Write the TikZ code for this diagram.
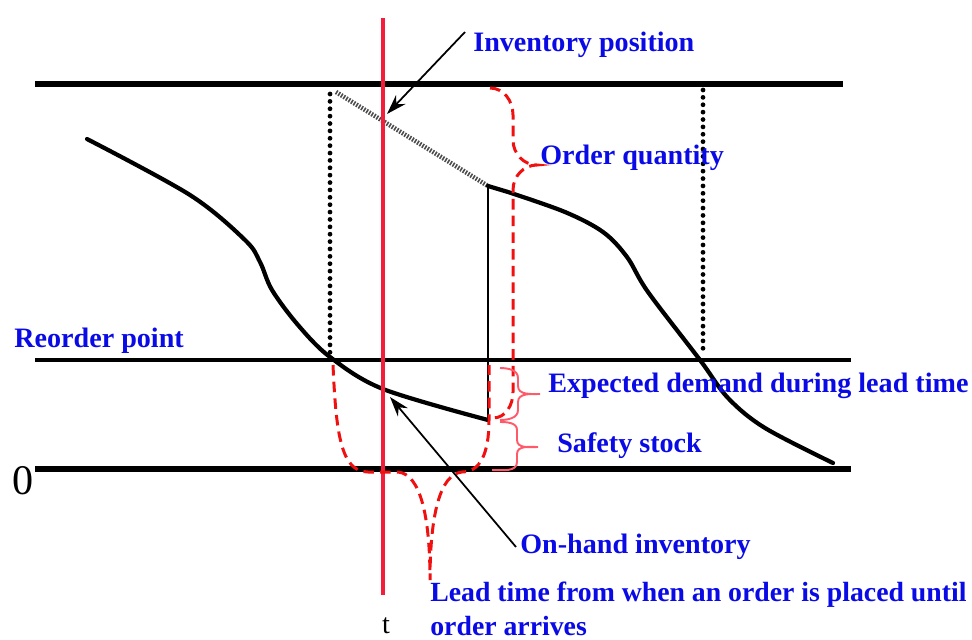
\documentclass[tikz,border=0pt]{standalone}
\usepackage{fontspec}
\setmainfont{Liberation Serif}
\usetikzlibrary{arrows.meta,positioning}
\definecolor{txtblue}{HTML}{0A0AE6}
\definecolor{tred}{HTML}{F41E3C}
\definecolor{dred}{HTML}{F01010}
\definecolor{bpink}{HTML}{FF5A6A}

\begin{document}
\begin{tikzpicture}[x=0.02cm, y=-0.02cm,
  every node/.style={font=\fontsize{16}{18}\selectfont\bfseries, text=txtblue, inner sep=0pt},
  level/.style={line width=3.3pt},
  stock/.style={line width=2.4pt, line join=round, line cap=round},
  lead/.style={dred, dash pattern=on 6pt off 3.5pt, line width=1.7pt},
  brace/.style={bpink, line width=1.1pt},
  pointer/.style={-{Stealth[length=4mm, width=2.6mm]}, line width=1pt},
  drop/.style={line width=2.7pt, line cap=round, dash pattern=on 0pt off 4.2pt}
]
\path[use as bounding box] (0,0) rectangle (972,639);

% Levels
\coordinate (topL) at (35,84);
\coordinate (topR) at (843,84);
\coordinate (ropL) at (35,360);
\coordinate (ropR) at (851,360);
\coordinate (zeroL) at (35,469);
\coordinate (zeroR) at (851,469);
\draw[level] (topL) -- (topR);
\draw[level, line width=2.3pt] (ropL) -- (ropR);
\draw[level] (zeroL) -- (zeroR);

% Order placed / arrives
\draw[drop] (330,94) -- (330,355);
\draw[drop] (703,90) -- (703,355);
\draw[gray!60!black, line width=2.6pt, dash pattern=on 0.9pt off 0.8pt] (336,92) -- (488,186);
\draw[line width=0.6pt] (488,186) -- (488,420);

% On-hand inventory
\draw[stock] plot[smooth, tension=0.55] coordinates {(87,139) (190,195) (245,240) (260,262) (272,290) (298,325) (330,357) (383,389) (488,420)};
\draw[stock] (488,186) -- (508,192) plot[smooth, tension=0.55] coordinates {(508,192) (565,212) (603,232) (627,257) (648,292) (700,360) (728,398) (765,428) (833,463)};

% Time t
\draw[tred, line width=2.8pt] (383,18) -- (383,595);
\node[text=black, font=\fontsize{16}{18}\selectfont] (tlab) at (386,626) {t};
\node[text=black, font=\fontsize{24}{24}\selectfont] (zero) at (23,481) {0};

% Braces
\draw[lead] (490,88) to[out=0, in=90] (513,115) -- (513,140) to[out=-90, in=180] (537,165)
  to[out=180, in=90] (513,190) -- (513,392) to[out=-90, in=0] (493,418);
\draw[lead] (333,365) .. controls (336,430) and (340,472) .. (368,472) -- (398,472)
  .. controls (420,474) and (430,515) .. (430,580) .. controls (430,515) and (440,474) .. (462,472)
  to[out=0, in=-90] (489,420) -- (489,365);
\draw[brace] (500,368) to[out=0, in=90] (518,378) -- (518,386) to[out=-90, in=180] (540,394)
  to[out=180, in=90] (518,402) -- (518,410) to[out=-90, in=0] (500,420);
\draw[brace] (500,422) to[out=0, in=90] (517,430) -- (517,440) to[out=-90, in=180] (538,447)
  to[out=180, in=90] (517,454) -- (517,462) to[out=-90, in=0] (492,470);

% Labels
\node[anchor=west] (invpos) at (473,45) {Inventory position};
\node[anchor=west] (ordqty) at (540,158) {Order quantity};
\node[anchor=west] (rop) at (14,341) {Reorder point};
\node[anchor=west] (expdem) at (548,386) {Expected demand during lead time};
\node[anchor=west] (safety) at (557,446) {Safety stock};
\node[anchor=west] (onhand) at (520,547) {On-hand inventory};
\node[anchor=north west, align=left, font=\fontsize{15.8}{19}\selectfont\bfseries] (leadtime) at (430,582) {Lead time from when an order is placed until\\order arrives};

% Pointers
\coordinate (ipos) at (387,114);
\coordinate (ohand) at (390,397);
\draw[pointer] (465,32) -- (ipos);
\draw[pointer] (onhand.west) ++(-4,0) -- (ohand);
\end{tikzpicture}
\end{document}
